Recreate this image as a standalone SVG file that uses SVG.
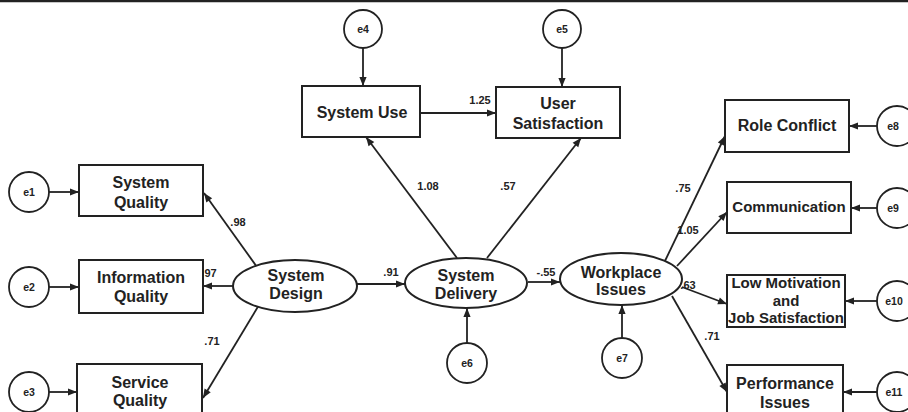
<svg xmlns="http://www.w3.org/2000/svg" width="908" height="412" viewBox="0 0 908 412">
  <style>
    .box { fill: #fff; stroke: #222; stroke-width: 2; }
    .lat { fill: #fff; stroke: #222; stroke-width: 2; }
    .err { fill: #fff; stroke: #222; stroke-width: 1.8; }
    .lbl { font-family: "Liberation Sans", Arial, sans-serif; font-weight: bold; font-size: 16px; fill: #222; text-anchor: middle; }
    .sm { font-size: 15px; }
    .elbl { font-family: "Liberation Sans", Arial, sans-serif; font-weight: bold; font-size: 10.5px; fill: #222; text-anchor: middle; }
    .coef { font-family: "Liberation Sans", Arial, sans-serif; font-weight: bold; font-size: 11px; fill: #222; text-anchor: middle; }
    .edge { stroke: #222; stroke-width: 1.8; fill: none; marker-end: url(#arrow); }
  </style>
  <defs>
    <marker id="arrow" viewBox="0 0 10 10" refX="10" refY="5" markerWidth="6" markerHeight="5" markerUnits="strokeWidth" orient="auto">
      <path d="M0,1 L10,5 L0,9 z" fill="#222"/>
    </marker>
  </defs>
  <rect width="908" height="412" fill="#fff"/>
  <line x1="0" y1="1" x2="908" y2="1" stroke="#222" stroke-width="2.5"/>

  <g id="connectors">
    <line class="edge" x1="363" y1="48" x2="363" y2="86"/>
    <line class="edge" x1="562" y1="48" x2="562" y2="87"/>
    <line class="edge" x1="420" y1="113" x2="496" y2="113"/>
    <line class="edge" x1="457" y1="258" x2="366" y2="137"/>
    <line class="edge" x1="487" y1="258" x2="581" y2="138"/>
    <line class="edge" x1="49" y1="192" x2="79" y2="192"/>
    <line class="edge" x1="49" y1="287" x2="79" y2="287"/>
    <line class="edge" x1="49" y1="392" x2="77" y2="392"/>
    <line class="edge" x1="257" y1="267" x2="204" y2="193"/>
    <line class="edge" x1="233" y1="286" x2="203" y2="286"/>
    <line class="edge" x1="259" y1="305" x2="203" y2="398"/>
    <line class="edge" x1="357" y1="284" x2="405" y2="284"/>
    <line class="edge" x1="528" y1="282" x2="560" y2="282"/>
    <line class="edge" x1="467" y1="343" x2="467" y2="308"/>
    <line class="edge" x1="622" y1="338" x2="622" y2="305"/>
    <line class="edge" x1="664" y1="263" x2="725" y2="136"/>
    <line class="edge" x1="677" y1="266" x2="727" y2="212"/>
    <line class="edge" x1="682" y1="287" x2="727" y2="304"/>
    <line class="edge" x1="672" y1="296" x2="727" y2="392"/>
    <line class="edge" x1="877" y1="126" x2="849" y2="126"/>
    <line class="edge" x1="877" y1="208" x2="851" y2="208"/>
    <line class="edge" x1="877" y1="301" x2="845" y2="301"/>
    <line class="edge" x1="877" y1="392" x2="843" y2="392"/>
  </g>

  <g id="coefficients">
    <text class="coef" x="480" y="104">1.25</text>
    <text class="coef" x="428" y="190">1.08</text>
    <text class="coef" x="508" y="190">.57</text>
    <text class="coef" x="238" y="226">.98</text>
    <text class="coef" x="209" y="277">.97</text>
    <text class="coef" x="212" y="345">.71</text>
    <text class="coef" x="391" y="276">.91</text>
    <text class="coef" x="546" y="276">-.55</text>
    <text class="coef" x="683" y="192">.75</text>
    <text class="coef" x="688" y="234">1.05</text>
    <text class="coef" x="688" y="289">.63</text>
    <text class="coef" x="712" y="340">.71</text>
  </g>

  <g id="e4"><circle class="err" cx="363" cy="29" r="19"/><text class="elbl" x="363" y="33">e4</text></g>
  <g id="e5"><circle class="err" cx="562" cy="29" r="19"/><text class="elbl" x="562" y="33">e5</text></g>
  <g id="e1"><circle class="err" cx="29" cy="192" r="20"/><text class="elbl" x="29" y="196">e1</text></g>
  <g id="e2"><circle class="err" cx="29" cy="287" r="20"/><text class="elbl" x="29" y="291">e2</text></g>
  <g id="e3"><circle class="err" cx="29" cy="392" r="20"/><text class="elbl" x="29" y="396">e3</text></g>
  <g id="e6"><circle class="err" cx="467" cy="363" r="20"/><text class="elbl" x="467" y="367">e6</text></g>
  <g id="e7"><circle class="err" cx="622" cy="358" r="20"/><text class="elbl" x="622" y="362">e7</text></g>
  <g id="e8"><circle class="err" cx="897" cy="126" r="20"/><text class="elbl" x="893" y="130">e8</text></g>
  <g id="e9"><circle class="err" cx="897" cy="208" r="20"/><text class="elbl" x="893" y="212">e9</text></g>
  <g id="e10"><circle class="err" cx="897" cy="301" r="20"/><text class="elbl" x="894" y="305">e10</text></g>
  <g id="e11"><circle class="err" cx="897" cy="392" r="20"/><text class="elbl" x="894" y="396">e11</text></g>

  <g id="system-use"><rect class="box" x="302" y="86" width="118" height="51"/><text class="lbl" x="362" y="118">System Use</text></g>
  <g id="user-satisfaction"><rect class="box" x="496" y="87" width="124" height="51"/><text class="lbl" x="558" y="109">User</text><text class="lbl" x="558" y="129">Satisfaction</text></g>
  <g id="system-quality"><rect class="box" x="79" y="165" width="124" height="51"/><text class="lbl" x="141" y="188">System</text><text class="lbl" x="141" y="208">Quality</text></g>
  <g id="information-quality"><rect class="box" x="79" y="260" width="124" height="53"/><text class="lbl" x="141" y="283">Information</text><text class="lbl" x="141" y="302">Quality</text></g>
  <g id="service-quality"><rect class="box" x="77" y="364" width="125" height="60"/><text class="lbl" x="140" y="388">Service</text><text class="lbl" x="140" y="406">Quality</text></g>

  <g id="system-design"><ellipse class="lat" cx="295" cy="286" rx="62" ry="26"/><text class="lbl" x="296" y="281">System</text><text class="lbl" x="296" y="299">Design</text></g>
  <g id="system-delivery"><ellipse class="lat" cx="466" cy="283" rx="61" ry="25"/><text class="lbl" x="466" y="281">System</text><text class="lbl" x="466" y="299">Delivery</text></g>
  <g id="workplace-issues"><ellipse class="lat" cx="621" cy="279" rx="61" ry="26"/><text class="lbl" x="621" y="278">Workplace</text><text class="lbl" x="621" y="295">Issues</text></g>

  <g id="role-conflict"><rect class="box" x="725" y="100" width="124" height="52"/><text class="lbl" x="787" y="131">Role Conflict</text></g>
  <g id="communication"><rect class="box" x="727" y="182" width="124" height="51"/><text class="lbl sm" x="789" y="212">Communication</text></g>
  <g id="low-motivation"><rect class="box" x="727" y="275" width="118" height="52"/><text class="lbl sm" x="786" y="288">Low Motivation</text><text class="lbl sm" x="786" y="306">and</text><text class="lbl sm" x="786" y="323">Job Satisfaction</text></g>
  <g id="performance-issues"><rect class="box" x="727" y="365" width="116" height="60"/><text class="lbl" x="785" y="389">Performance</text><text class="lbl" x="785" y="408">Issues</text></g>
</svg>
